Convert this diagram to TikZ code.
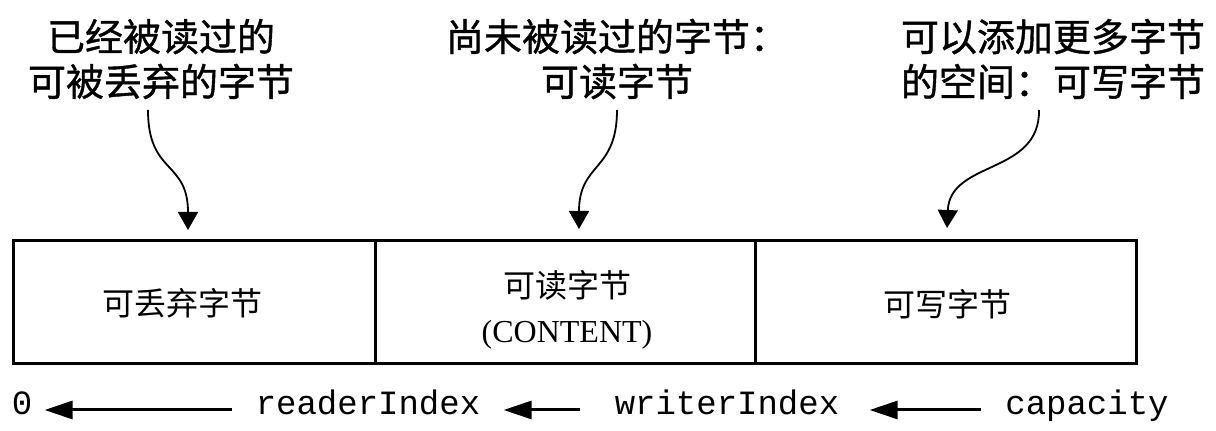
\documentclass[tikz,border=0pt]{standalone}
\usepackage{fontspec}
\setmainfont{Liberation Serif}
\setmonofont{Liberation Mono}
\newfontfamily\cjk{Noto Sans CJK SC}
\newfontfamily\cjkb{Noto Sans CJK SC}[FakeBold=1]
\usetikzlibrary{arrows.meta}
\tikzset{
  toplabel/.style={font=\cjkb\fontsize{19pt}{22.5pt}\selectfont, align=center, inner sep=0pt},
  cell/.style={draw, line width=1.3pt, minimum height=61.5pt, inner sep=0pt, anchor=north west},
  celltext/.style={font=\fontsize{16pt}{22.5pt}\selectfont, align=center, inner sep=0pt},
  idx/.style={font=\ttfamily\fontsize{17pt}{20pt}\selectfont, inner sep=0pt, anchor=mid},
  curvearrow/.style={line width=0.9pt, -{Triangle[length=9pt,width=10pt]}},
  idxarrow/.style={line width=1.5pt, -{Triangle[length=14pt,width=9pt]}}
}
\begin{document}
\begin{tikzpicture}[x=0.5pt,y=-0.5pt]
\useasboundingbox (0,0) rectangle (1216,431);
% top labels
\node[toplabel] (ltop) at (161,59) {已经被读过的\\可被丢弃的字节};
\node[toplabel] (mtop) at (617,59) {尚未被读过的字节：\\可读字节};
\node[toplabel] (rtop) at (1053,59) {可以添加更多字节\\的空间：可写字节};
% cells
\node[cell, minimum width=181pt] (c1) at (12,239) {};
\node[cell, minimum width=190pt] (c2) at (374,239) {};
\node[cell, minimum width=190.5pt] (c3) at (754,239) {};
\node[celltext] (t1) at (182,303) {\cjk 可丢弃字节};
\node[celltext] (t2) at (567,310) {{\cjk 可读字节}\\(CONTENT)};
\node[celltext] (t3) at (947,304) {\cjk 可写字节};
% curved arrows
\coordinate (ls) at (148,110);
\coordinate (le) at (188,230);
\coordinate (ms) at (617,110);
\coordinate (me) at (579,229);
\coordinate (rs) at (1039,110);
\coordinate (re) at (947,228);
\draw[curvearrow] (ls) .. controls (148,175) and (188,160) .. (le);
\draw[curvearrow] (ms) .. controls (617,172) and (579,162) .. (me);
\draw[curvearrow] (rs) .. controls (1040,175) and (950,160) .. (re);
% index row
\node[idx] (n0) at (22,410) {0};
\node[idx] (nr) at (368,410) {readerIndex};
\node[idx] (nw) at (727,410) {writerIndex};
\node[idx] (nc) at (1087,410) {capacity};
\draw[idxarrow, shorten <=11.5pt, shorten >=6pt] (nr.mid west) -- (n0.mid east);
\draw[idxarrow, shorten <=17pt, shorten >=11.5pt] (nw.mid west) -- (nr.mid east);
\draw[idxarrow, shorten <=12pt, shorten >=15pt] (nc.mid west) -- (nw.mid east);
\end{tikzpicture}
\end{document}
